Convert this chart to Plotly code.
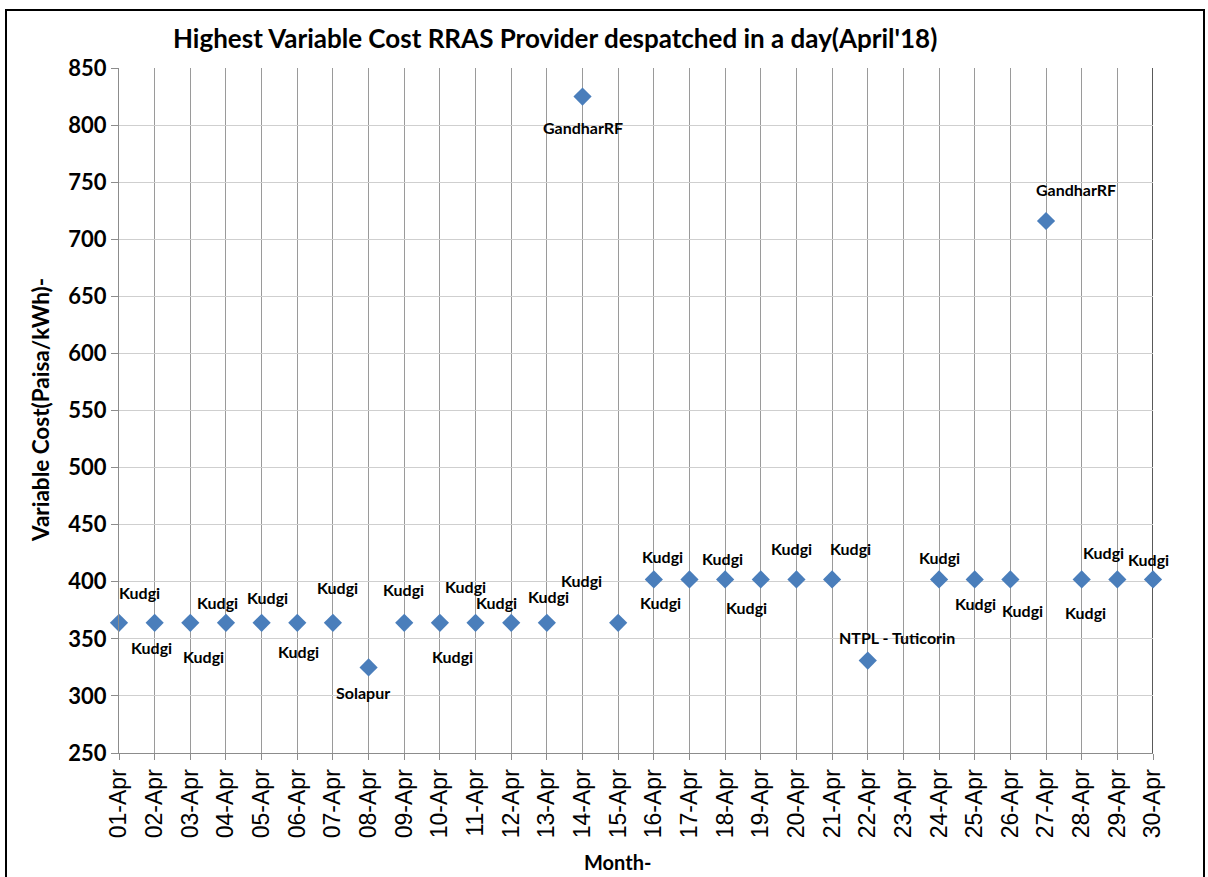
import plotly.graph_objects as go

days = [f"{d:02d}-Apr" for d in range(1, 31)]
values = [364, 364, 364, 364, 364, 364, 364, 325, 364, 364,
          364, 364, 364, 825, 364, 402, 402, 402, 402, 402,
          402, 331, None, 402, 402, 402, 716, 402, 402, 402]
providers = ["Kudgi", "Kudgi", "Kudgi", "Kudgi", "Kudgi", "Kudgi", "Kudgi", "Solapur", "Kudgi", "Kudgi",
             "Kudgi", "Kudgi", "Kudgi", "GandharRF", "Kudgi", "Kudgi", "Kudgi", "Kudgi", "Kudgi", "Kudgi",
             "Kudgi", "NTPL - Tuticorin", None, "Kudgi", "Kudgi", "Kudgi", "GandharRF", "Kudgi", "Kudgi", "Kudgi"]
y_ticks = [250, 300, 350, 400, 450, 500, 550, 600, 650, 700, 750, 800, 850]

# label offsets in pixels (dx right, dy down) - styling only
label_offsets = [(20, -30), (-3, 25), (13, 34), (-8, -20), (6, -25), (1, 29), (5, -35), (-6, 25), (-1, -33), (13, 34),
                 (-10, -36), (-15, -20), (2, -26), (0, 31), (-37, -42), (9, -23), (-29, 23), (-3, -21), (-14, 28), (-5, -31),
                 (18, -31), (29, -23), (0, 0), (0, -22), (1, 24), (12, 31), (30, -31), (4, 33), (-14, -27), (-5, -20)]

W, H = 1208, 877
L, R, T, B = 119, 1153, 68, 753

x_idx = list(range(1, 31))

fig = go.Figure()
fig.add_trace(go.Scatter(
    x=x_idx, y=values, mode="markers",
    marker=dict(symbol="diamond", size=14, color="#4A7EBB", line=dict(width=0)),
    showlegend=False, cliponaxis=False,
))

label_font = dict(family="Lato, Carlito, sans-serif", size=16, color="#000000", weight="bold")
for i, (x, v, p) in enumerate(zip(x_idx, values, providers)):
    if v is None or p is None:
        continue
    dx, dy = label_offsets[i]
    fig.add_annotation(x=x, y=v, text=p, showarrow=False,
                       xshift=dx, yshift=-dy, font=label_font,
                       xanchor="center", yanchor="middle")

def px(xp):
    return (xp - L) / (R - L)

def py(yp):
    return (B - yp) / (B - T)

# title
fig.add_annotation(xref="paper", yref="paper", x=px(555), y=py(38),
                   text="Highest Variable Cost RRAS Provider despatched in a day(April'18)",
                   showarrow=False, xanchor="center", yanchor="middle",
                   font=dict(family="Lato, sans-serif", size=26, color="#000000", weight="bold"))
# axis titles
fig.add_annotation(xref="paper", yref="paper", x=px(40), y=py(410),
                   text="Variable Cost(Paisa/kWh)-", textangle=-90,
                   showarrow=False, xanchor="center", yanchor="middle",
                   font=dict(family="Lato, sans-serif", size=22.5, color="#000000", weight="bold"))
fig.add_annotation(xref="paper", yref="paper", x=px(617), y=py(862),
                   text="Month-",
                   showarrow=False, xanchor="center", yanchor="middle",
                   font=dict(family="Lato, sans-serif", size=20, color="#000000", weight="bold"))

# outer frame
fig.add_shape(type="rect", xref="paper", yref="paper",
              x0=px(6), x1=px(1204), y0=py(10), y1=py(900),
              line=dict(color="#000000", width=2), layer="above")
# right plot border
fig.add_shape(type="line", xref="x", yref="paper", x0=30, x1=30, y0=0, y1=1,
              line=dict(color="#222222", width=1.5), layer="below")

fig.update_layout(
    width=W, height=H,
    margin=dict(l=L, r=W - R, t=T, b=H - B),
    plot_bgcolor="white", paper_bgcolor="white",
    xaxis=dict(range=[1, 30], tickvals=x_idx, ticktext=days, tickangle=-90,
               showgrid=True, gridcolor="#9a9a9a", gridwidth=1,
               showline=True, linecolor="#8c8c8c", linewidth=1,
               ticks="outside", ticklen=6, tickcolor="#8c8c8c",
               tickfont=dict(family="Liberation Sans, Arial, sans-serif", size=23, color="#000000"),
               zeroline=False),
    yaxis=dict(range=[250, 850], tickvals=y_ticks,
               showgrid=True, gridcolor="#cfcfcf", gridwidth=1,
               showline=True, linecolor="#8c8c8c", linewidth=1,
               ticks="outside", ticklen=7, tickcolor="#8c8c8c",
               tickfont=dict(family="Lato, sans-serif", size=22, color="#000000", weight="bold"),
               zeroline=False),
)

fig.write_html("out.html", config={"displayModeBar": False},
               post_script="document.body.style.margin='0';document.body.style.overflow='hidden';")
